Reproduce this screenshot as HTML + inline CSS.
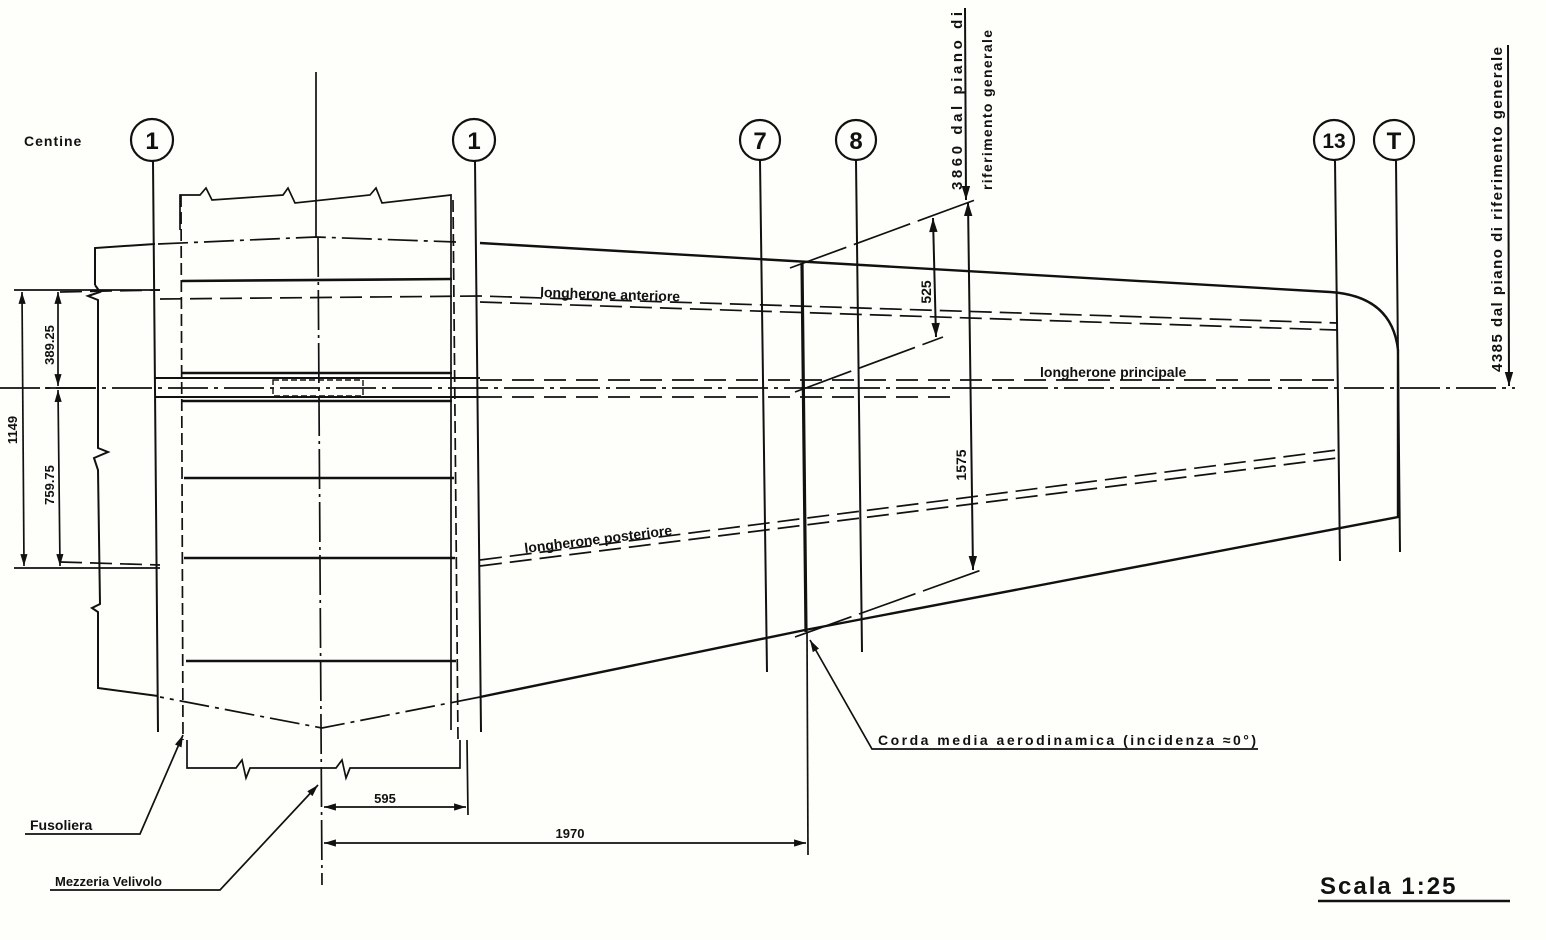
<!DOCTYPE html>
<html><head><meta charset="utf-8"><style>
html,body{margin:0;padding:0;background:#fefefa;}
svg{display:block;}
text{font-family:"Liberation Sans",sans-serif;fill:#111;font-weight:bold;}
</style></head><body>
<svg width="1546" height="940" viewBox="0 0 1546 940" xmlns="http://www.w3.org/2000/svg">
<rect width="1546" height="940" fill="#fefefa"/>
<defs>
<marker id="a" viewBox="0 0 10 10" refX="10" refY="5" markerWidth="9" markerHeight="7" orient="auto-start-reverse"><path d="M0,2 L10,5 L0,8 z" fill="#111"/></marker>
</defs>
<g stroke="#111" fill="none" stroke-width="1.7">
<line x1="316" y1="72" x2="316" y2="237" />
<line x1="318" y1="237" x2="322" y2="885" stroke-dasharray="40,5,3,5"/>
<line x1="153" y1="161" x2="158" y2="732" stroke-width="2"/>
<line x1="475" y1="161" x2="481" y2="732" stroke-width="2"/>
<line x1="760" y1="161" x2="767" y2="672" stroke-width="2"/>
<line x1="856" y1="161" x2="862" y2="652" stroke-width="2"/>
<line x1="1335" y1="161" x2="1340" y2="561" stroke-width="2"/>
<line x1="1396" y1="161" x2="1400" y2="552" stroke-width="2"/>
<circle cx="152" cy="140" r="21" stroke-width="2.2"/>
<circle cx="474" cy="140" r="21" stroke-width="2.2"/>
<circle cx="760" cy="140" r="20" stroke-width="2.2"/>
<circle cx="856" cy="140" r="20" stroke-width="2.2"/>
<circle cx="1334" cy="140" r="20" stroke-width="2.2"/>
<circle cx="1394" cy="140" r="20" stroke-width="2.2"/>
<path d="M180,230 L180,195 L200,195 L206,188 L212,200 L283,195 L288,188 L295,203 L370,195 L376,188 L382,203 L451,195 L451,730"/>
<line x1="181" y1="195" x2="183" y2="740" stroke-dasharray="12,5"/>
<line x1="453" y1="200" x2="458" y2="740" stroke-dasharray="12,5"/>
<path d="M187,740 L187,768 L236,768 L242,760 L246,778 L250,768 L336,768 L342,760 L346,778 L350,768 L460,768 L460,740"/>
<g stroke-width="2.6">
<line x1="182" y1="281" x2="452" y2="279"/>
<line x1="182" y1="373" x2="452" y2="373"/>
<line x1="182" y1="401" x2="452" y2="401"/>
<line x1="184" y1="478" x2="454" y2="478"/>
<line x1="184" y1="558" x2="455" y2="558"/>
<line x1="186" y1="661" x2="456" y2="661"/>
</g>
<line x1="155" y1="378" x2="480" y2="378" stroke-width="2"/>
<line x1="155" y1="397" x2="480" y2="397" stroke-width="2"/>
<rect x="273" y="380" width="90" height="16" stroke-width="1.4" stroke-dasharray="6,3"/>
<path d="M95,285 L95,248 L155,244" stroke-width="2"/>
<path d="M158,244 L316,237 L456,242" stroke-dasharray="30,6,4,6"/>
<path d="M480,243 L1330,292 Q1392,296 1398,350 L1398,517 L805,630 L480,697" stroke-width="2.4"/>
<path d="M480,697 L322,728 L160,697" stroke-dasharray="30,6,4,6"/>
<path d="M158,696 L98,688 L98,612 L92,608 L100,604 L98,470 L94,458 L108,452 L98,448 L98,300 L88,296 L100,292 L95,285" stroke-width="2"/>
<path d="M60,292 L160,290 M160,299 L480,296 L1337,323" stroke-dasharray="22,8"/>
<path d="M480,302 L1337,330" stroke-dasharray="22,8"/>
<path d="M60,562 L160,565 M480,560 L1337,450" stroke-dasharray="22,8"/>
<path d="M480,566 L1337,458" stroke-dasharray="22,8"/>
<line x1="0" y1="388" x2="1515" y2="388" stroke-dasharray="40,6,4,6"/>
<line x1="480" y1="380" x2="1337" y2="380" stroke-dasharray="22,10"/>
<line x1="480" y1="397" x2="950" y2="397" stroke-dasharray="22,10"/>
<line x1="802" y1="263" x2="806" y2="632" stroke-width="3.2"/>
<path d="M790,268 L975,200" stroke-dasharray="60,8"/>
<path d="M795,392 L943,337" stroke-dasharray="60,8"/>
<path d="M795,637 L987,568" stroke-dasharray="60,8"/>
<line x1="933" y1="218" x2="936" y2="337" marker-start="url(#a)" marker-end="url(#a)" stroke-width="2"/>
<line x1="968" y1="202" x2="973" y2="570" marker-start="url(#a)" marker-end="url(#a)" stroke-width="2"/>
<line x1="965" y1="8" x2="966" y2="200" marker-end="url(#a)" stroke-width="2"/>
<line x1="1508" y1="45" x2="1509" y2="386" marker-end="url(#a)" stroke-width="2"/>
<line x1="14" y1="290" x2="160" y2="290"/>
<line x1="14" y1="568" x2="160" y2="568"/>
<line x1="45" y1="388" x2="95" y2="388"/>
<line x1="22" y1="292" x2="24" y2="566" marker-start="url(#a)" marker-end="url(#a)"/>
<line x1="58" y1="292" x2="58" y2="386" marker-start="url(#a)" marker-end="url(#a)"/>
<line x1="58" y1="390" x2="60" y2="566" marker-start="url(#a)" marker-end="url(#a)"/>
<line x1="467" y1="740" x2="468" y2="815"/>
<line x1="807" y1="632" x2="808" y2="855"/>
<line x1="324" y1="807" x2="466" y2="807" marker-start="url(#a)" marker-end="url(#a)"/>
<line x1="324" y1="843" x2="806" y2="843" marker-start="url(#a)" marker-end="url(#a)"/>
<path d="M25,834 L140,834 L183,735" marker-end="url(#a)"/>
<path d="M50,890 L220,890 L318,785" marker-end="url(#a)"/>
<path d="M1258,749 L872,749 L810,640" marker-end="url(#a)"/>
<line x1="1318" y1="901" x2="1510" y2="901" stroke-width="2.6"/>
</g>
<g font-size="14">
<text x="24" y="146" font-size="14" letter-spacing="1">Centine</text>
<g font-size="24" text-anchor="middle">
<text x="152" y="149">1</text><text x="474" y="149">1</text>
<text x="760" y="149">7</text><text x="856" y="149">8</text>
<text x="1334" y="148" font-size="21">13</text><text x="1394" y="149">T</text>
</g>
<text x="540" y="297" transform="rotate(1.8 540 297)">longherone anteriore</text>
<text x="1040" y="377">longherone principale</text>
<text x="525" y="553" transform="rotate(-7 525 553)">longherone posteriore</text>
<text transform="translate(931,292) rotate(-90)" text-anchor="middle" font-size="14" x="0" y="0" dy="0" style="paint-order:stroke" stroke="#fefefa" stroke-width="4">525</text>
<text transform="translate(966,465) rotate(-90)" text-anchor="middle" font-size="14" stroke="#fefefa" stroke-width="4" style="paint-order:stroke">1575</text>
<text transform="translate(962,190) rotate(-90)" font-size="15" textLength="178" lengthAdjust="spacing">3860 dal piano di</text>
<text transform="translate(992,190) rotate(-90)" font-size="14" textLength="160" lengthAdjust="spacing">riferimento generale</text>
<text transform="translate(1502,372) rotate(-90)" font-size="15" textLength="325" lengthAdjust="spacing">4385 dal piano di riferimento generale</text>
<text transform="translate(17,430) rotate(-90)" text-anchor="middle" font-size="13">1149</text>
<text transform="translate(54,345) rotate(-90)" text-anchor="middle" font-size="13">389.25</text>
<text transform="translate(54,485) rotate(-90)" text-anchor="middle" font-size="13">759.75</text>
<text x="385" y="803" text-anchor="middle" font-size="13">595</text>
<text x="570" y="838" text-anchor="middle" font-size="13">1970</text>
<text x="30" y="830">Fusoliera</text>
<text x="55" y="886" font-size="13">Mezzeria Velivolo</text>
<text x="878" y="745" font-size="14" textLength="378" lengthAdjust="spacing">Corda media aerodinamica (incidenza ≈0°)</text>
<text x="1320" y="894" font-size="24" letter-spacing="2">Scala 1:25</text>
</g>
</svg>
</body></html>
